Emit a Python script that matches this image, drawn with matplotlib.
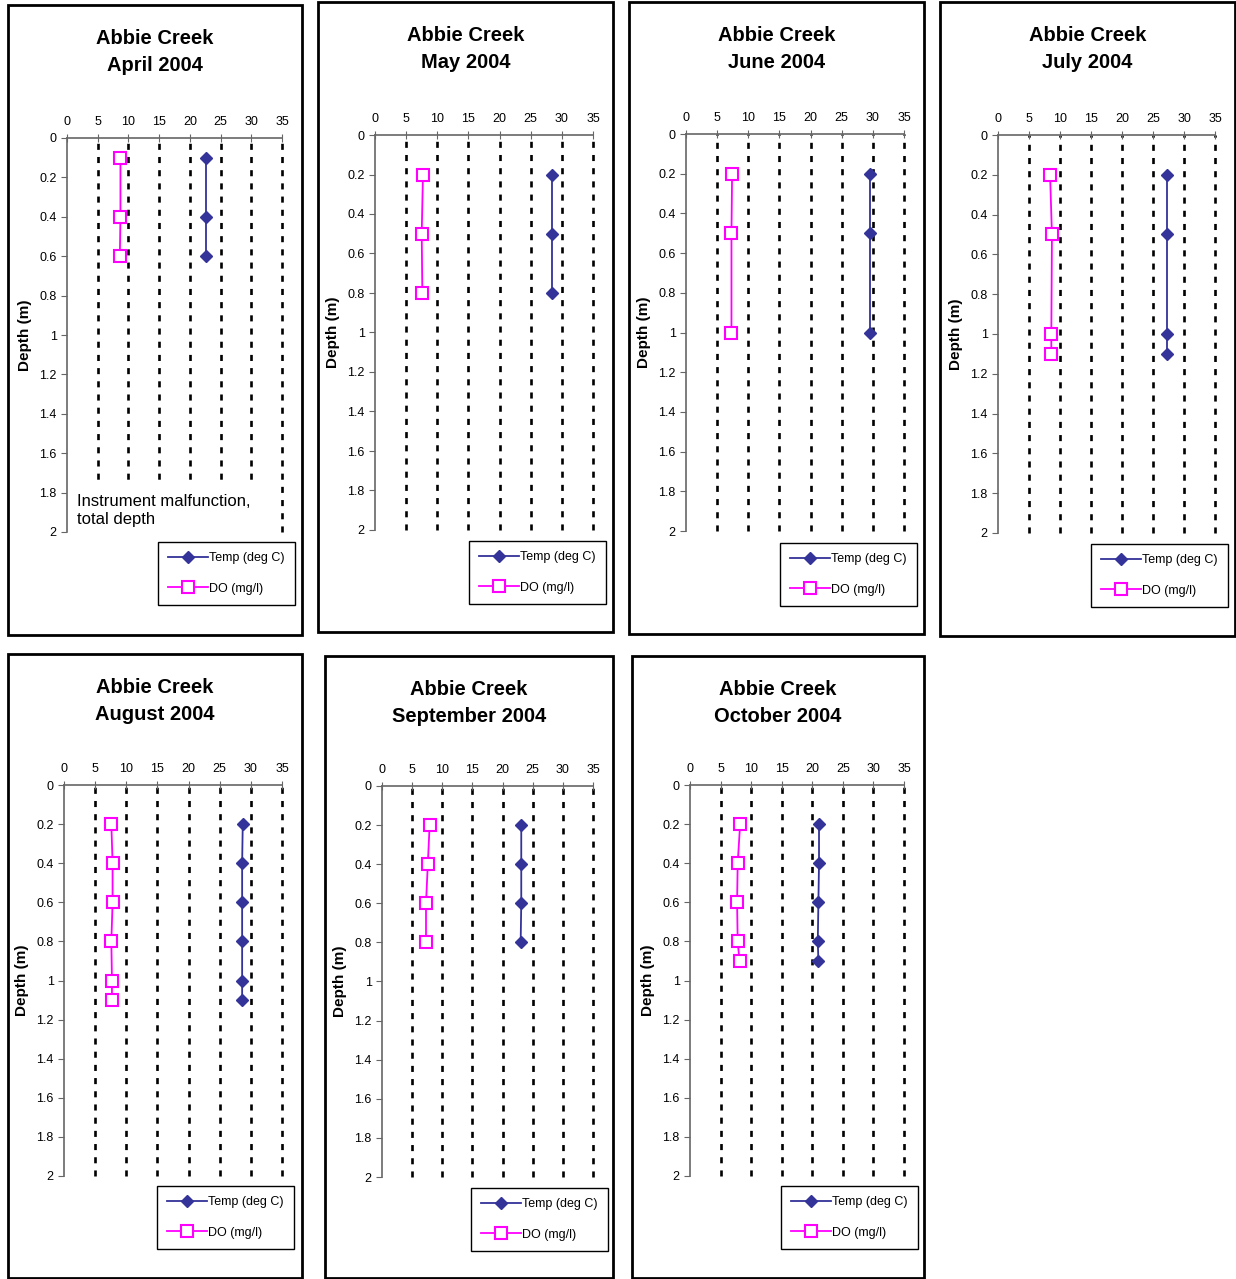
import matplotlib
matplotlib.use('Agg')
import matplotlib.pyplot as plt
from matplotlib.patches import Rectangle

plt.rcParams['font.family'] = ['Liberation Sans', 'DejaVu Sans']

W, H = 1236, 1279

months = ['April 2004', 'May 2004', 'June 2004', 'July 2004',
          'August 2004', 'September 2004', 'October 2004']

depth_apr = [0.1, 0.4, 0.6]
temp_apr = [22.6, 22.6, 22.6]
do_apr = [8.7, 8.7, 8.6]

depth_may = [0.2, 0.5, 0.8]
temp_may = [28.4, 28.4, 28.4]
do_may = [7.7, 7.5, 7.6]

depth_jun = [0.2, 0.5, 1.0]
temp_jun = [29.6, 29.6, 29.6]
do_jun = [7.4, 7.3, 7.3]

depth_jul = [0.2, 0.5, 1.0, 1.1]
temp_jul = [27.2, 27.2, 27.2, 27.2]
do_jul = [8.4, 8.7, 8.6, 8.6]

depth_aug = [0.2, 0.4, 0.6, 0.8, 1.0, 1.1]
temp_aug = [28.7, 28.6, 28.6, 28.6, 28.6, 28.6]
do_aug = [7.6, 7.8, 7.8, 7.6, 7.7, 7.7]

depth_sep = [0.2, 0.4, 0.6, 0.8]
temp_sep = [23.1, 23.1, 23.1, 23.0]
do_sep = [7.9, 7.6, 7.3, 7.3]

depth_oct = [0.2, 0.4, 0.6, 0.8, 0.9]
temp_oct = [21.1, 21.1, 21.0, 20.9, 21.0]
do_oct = [8.2, 7.8, 7.7, 7.8, 8.1]

depths = [depth_apr, depth_may, depth_jun, depth_jul, depth_aug, depth_sep, depth_oct]
temps = [temp_apr, temp_may, temp_jun, temp_jul, temp_aug, temp_sep, temp_oct]
dos = [do_apr, do_may, do_jun, do_jul, do_aug, do_sep, do_oct]

x_ticks = [0, 5, 10, 15, 20, 25, 30, 35]
y_ticks = [0, 0.2, 0.4, 0.6, 0.8, 1, 1.2, 1.4, 1.6, 1.8, 2]
y_labels = ['0', '0.2', '0.4', '0.6', '0.8', '1', '1.2', '1.4', '1.6', '1.8', '2']

# panel boxes, axes area, legend box (pixel coords: x0, y0, x1, y1)
boxes = [(8, 5, 302, 635), (318, 2, 613, 632), (629, 2, 924, 634), (940, 2, 1235, 636),
         (8, 654, 302, 1278), (325, 656, 613, 1278), (632, 656, 924, 1278)]
axes_px = [(67, 138, 282, 532), (375, 135, 593, 530), (686, 134, 904, 531), (998, 135, 1215, 533),
           (64, 785, 282, 1176), (382, 786, 593, 1177), (690, 785, 904, 1176)]
legend_px = [(158, 542, 294, 607), (469, 541, 605, 605), (780, 543, 916, 607), (1091, 544, 1227, 608),
             (157, 1186, 293, 1250), (471, 1188, 607, 1252), (781, 1186, 917, 1250)]

TEMP_C = '#333399'
DO_C = '#FF00FF'

fig = plt.figure(figsize=(W / 100, H / 100), dpi=100)

def fx(x):
    return x / W

def fy(y):
    return 1 - y / H

for i in range(7):
    bx0, by0, bx1, by1 = boxes[i]
    fig.patches.append(Rectangle((fx(bx0), fy(by1)), fx(bx1 - bx0), (by1 - by0) / H,
                                 transform=fig.transFigure, fill=False,
                                 edgecolor='black', linewidth=2, zorder=0))
    ax0, ay0, ax1, ay1 = axes_px[i]
    ax = fig.add_axes([fx(ax0), fy(ay1), fx(ax1 - ax0), (ay1 - ay0) / H])
    ax.set_xlim(0, 35)
    ax.set_ylim(2, 0)
    ax.xaxis.tick_top()
    ax.set_xticks(x_ticks)
    ax.set_yticks(y_ticks)
    ax.set_yticklabels(y_labels)
    ax.tick_params(axis='x', direction='inout', length=6, labelsize=9, pad=4, color='#666666')
    ax.tick_params(axis='y', direction='out', length=4, labelsize=9, color='#666666')
    for s in ['bottom', 'right']:
        ax.spines[s].set_visible(False)
    for s in ['left', 'top']:
        ax.spines[s].set_color('#666666')
        ax.spines[s].set_linewidth(1.2)
        ax.spines[s].set_zorder(5)
    for xv in x_ticks[1:]:
        ax.axvline(xv, color='black', linestyle=(0, (2.3, 2.7)), linewidth=1.9,
                   zorder=1, clip_on=False)
    ax.plot(temps[i], depths[i], color=TEMP_C, marker='D', markersize=6.5,
            linewidth=1.3, label='Temp (deg C)', zorder=3)
    ax.plot(dos[i], depths[i], color=DO_C, marker='s', markersize=8,
            markerfacecolor='white', markeredgewidth=1.5, linewidth=1.3,
            label='DO (mg/l)', zorder=3)
    ax.set_ylabel('Depth (m)', fontsize=11, fontweight='bold', labelpad=5)
    ax.set_facecolor('none')

    cx = (bx0 + bx1) / 2
    fig.text(fx(cx), fy(by0 + 47), 'Abbie Creek\n' + months[i], ha='center', va='center',
             fontsize=14.5, fontweight='bold', linespacing=1.5)

    lx0, ly0, lx1, ly1 = legend_px[i]
    ax.legend(loc='upper left', bbox_to_anchor=(fx(lx0), fy(ly0)),
              bbox_transform=fig.transFigure, fontsize=9, frameon=True, fancybox=False,
              edgecolor='black', framealpha=1, handlelength=3.2, labelspacing=1.5,
              borderpad=0.8, handletextpad=0.1, borderaxespad=0)

    if i == 0:
        ax.text(1.6, 1.89, 'Instrument malfunction,\ntotal depth', fontsize=12,
                ha='left', va='center', linespacing=1.25, zorder=4,
                bbox=dict(facecolor='white', edgecolor='none', pad=7))

fig.savefig('out.png', dpi=100)
